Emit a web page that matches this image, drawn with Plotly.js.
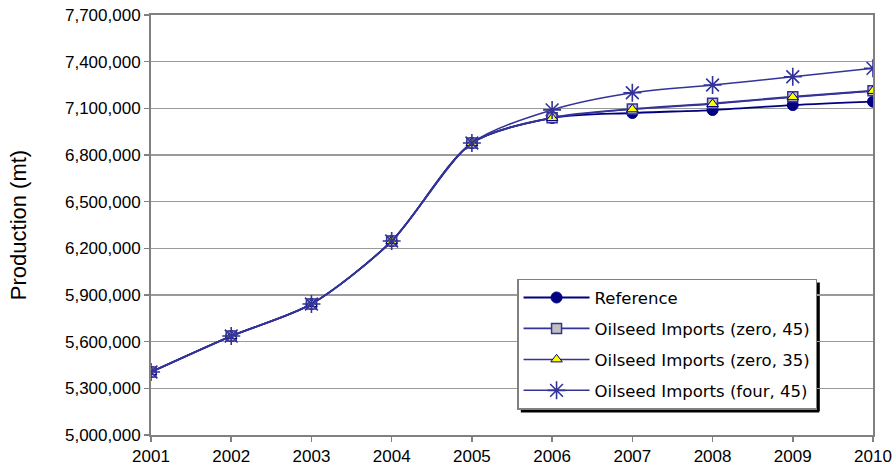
<!DOCTYPE html>
<html>
<head>
<meta charset="utf-8">
<script src="https://cdn.plot.ly/plotly-3.0.1.min.js"></script>
<style>html,body{margin:0;padding:0;background:#fff;} #chart{width:894px;height:475px;}</style>
</head>
<body>
<div id="chart"></div>
<script>
const years = [2001, 2002, 2003, 2004, 2005, 2006, 2007, 2008, 2009, 2010];
const reference = [5405000, 5636000, 5842000, 6247000, 6877000, 7038000, 7070000, 7089000, 7121000, 7143000];
const importsZero45 = [5405000, 5636000, 5842000, 6247000, 6877000, 7040000, 7096000, 7132000, 7175000, 7213000];
const importsZero35 = [5405000, 5636000, 5842000, 6247000, 6877000, 7038000, 7094000, 7128000, 7172000, 7212000];
const importsFour45 = [5405000, 5636000, 5842000, 6247000, 6877000, 7090000, 7200000, 7250000, 7303000, 7357000];
const yTicks = [5000000, 5300000, 5600000, 5900000, 6200000, 6500000, 6800000, 7100000, 7400000, 7700000];

const axisFont = "'Liberation Sans', Arial, sans-serif";
const legendFont = {family: "'DejaVu Sans', Verdana, sans-serif", size: 16.5, color: '#000'};

const traces = [
  {x: years, y: reference, name: 'Reference', legendgroup: 'a', mode: 'lines+markers',
   line: {color: '#000080', width: 1.8, shape: 'spline', smoothing: 0.8},
   marker: {symbol: 'circle', size: 11, color: '#000080', line: {color: '#000080', width: 1}}},
  {x: years, y: importsZero45, name: 'Oilseed Imports (zero, 45)', legendgroup: 'b', mode: 'lines+markers',
   line: {color: '#333399', width: 1.8, shape: 'spline', smoothing: 0.8},
   marker: {symbol: 'square', size: 10, color: '#c0c0c0', line: {color: '#333399', width: 1.5}}},
  {x: years, y: importsZero35, name: 'Oilseed Imports (zero, 35)', legendgroup: 'c', mode: 'lines+markers',
   line: {color: '#333399', width: 1.5, shape: 'spline', smoothing: 0.8},
   marker: {symbol: 'triangle-up', size: 10, color: '#ffff00', line: {color: '#000080', width: 1}}},
  {x: years, y: importsFour45, name: 'Oilseed Imports (four, 45)', legendgroup: 'd', mode: 'lines+markers',
   line: {color: '#333399', width: 1.5, shape: 'spline', smoothing: 0.8},
   marker: {symbol: 'asterisk-open', size: 15, color: '#333399', line: {color: '#333399', width: 1.6}}}
];

const layout = {
  width: 894, height: 475,
  margin: {l: 151, r: 21, t: 15, b: 40},
  paper_bgcolor: '#fff', plot_bgcolor: '#fff',
  font: {family: axisFont, size: 17, color: '#000'},
  showlegend: true,
  legend: {x: 0.507, y: 0.372, xanchor: 'left', yanchor: 'top',
           bgcolor: '#fff', bordercolor: '#808080', borderwidth: 1.5,
           font: legendFont, tracegroupgap: 6.5, itemwidth: 66, entrywidth: 316},
  xaxis: {range: [2001, 2010], tickvals: years, ticktext: years.map(String),
          showgrid: false, zeroline: false, showline: true, linecolor: '#808080', linewidth: 2,
          mirror: true, ticks: 'outside', ticklen: 5, tickcolor: '#808080', tickwidth: 1.5,
          tickfont: {family: axisFont, size: 17}},
  yaxis: {range: [5000000, 7700000], tickvals: yTicks, tickformat: ',d',
          showgrid: true, gridcolor: '#9a9a9a', gridwidth: 1.5, zeroline: false,
          showline: true, linecolor: '#808080', linewidth: 2, mirror: true,
          ticks: 'outside', ticklen: 5, tickcolor: '#808080', tickwidth: 1.5,
          tickfont: {family: axisFont, size: 17},
          title: {text: 'Production (mt)', font: {family: axisFont, size: 22}, standoff: 32}}
};

Plotly.newPlot('chart', traces, layout, {displayModeBar: false, staticPlot: true}).then(function(gd){
  const lg = gd.querySelector('.legend .bg');
  if (lg) {
    const bb = lg.getBoundingClientRect();
    const fl = gd._fullLayout;
    const toPX = function(px){ return (px - fl._size.l) / fl._size.w; };
    const toPY = function(py){ return 1 - (py - fl._size.t) / fl._size.h; };
    Plotly.relayout(gd, {shapes: [
      {type: 'line', xref: 'paper', yref: 'paper', layer: 'below',
       x0: toPX(bb.right + 2), x1: toPX(bb.right + 2), y0: toPY(bb.top + 3), y1: toPY(bb.bottom + 2),
       line: {color: '#000', width: 3}},
      {type: 'line', xref: 'paper', yref: 'paper', layer: 'below',
       x0: toPX(bb.left + 3), x1: toPX(bb.right + 3), y0: toPY(bb.bottom + 2), y1: toPY(bb.bottom + 2),
       line: {color: '#000', width: 3}}
    ]});
  }
});
</script>
</body>
</html>
